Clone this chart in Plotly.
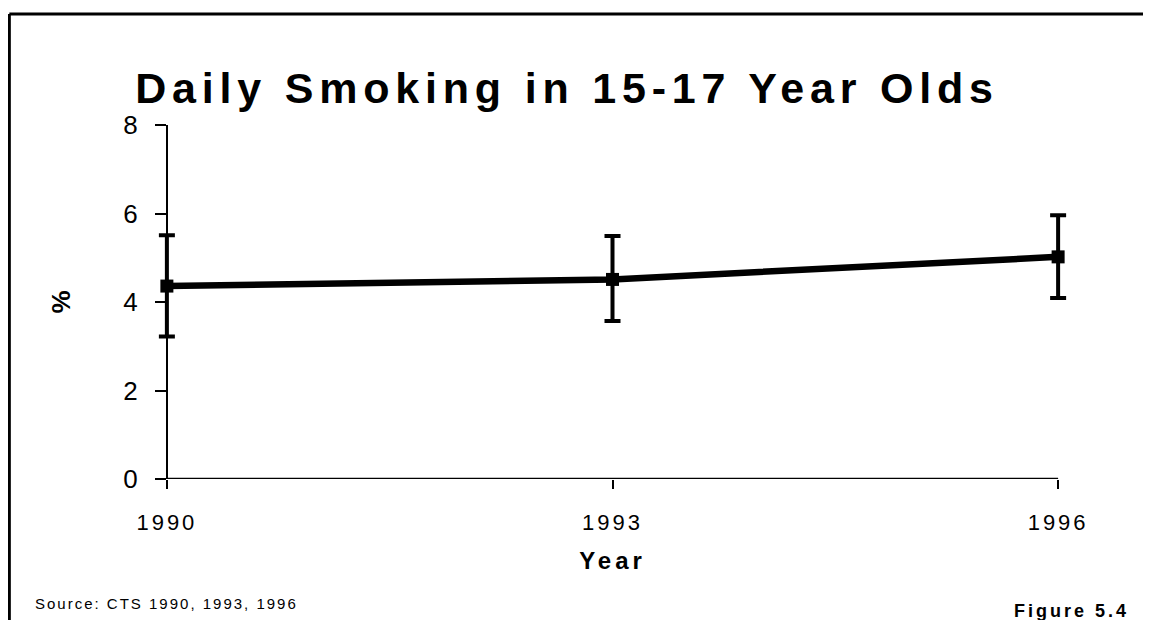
import plotly.graph_objects as go

years = [1990, 1993, 1996]
pct = [4.36, 4.51, 5.02]
ci_high = [5.51, 5.49, 5.96]
ci_low = [3.22, 3.57, 4.09]
x_tick_labels = ["1990", "1993", "1996"]
y_ticks = [0, 2, 4, 6, 8]

title_text = "Daily Smoking in 15-17 Year Olds"
source_text = "Source: CTS 1990, 1993, 1996"
figure_text = "Figure 5.4"

W, H = 1151, 620
OFF = 8  # page body margin
PAD = 0.08  # x padding (years) so error-bar caps are not clipped
# target page pixels of the axes
X0, X1, Y0, Y1 = 167, 1058, 479, 125
pxyr = (X1 - X0) / (years[-1] - years[0])
L = X0 - PAD * pxyr - OFF
R = X1 + PAD * pxyr - OFF
T = Y1 - OFF
B = Y0 - OFF


def sp(t, px):
    return f'<span style="letter-spacing:{px}px">{t}</span>'


err_plus = [h - v for h, v in zip(ci_high, pct)]
err_minus = [v - l for l, v in zip(ci_low, pct)]

fig = go.Figure()
fig.add_trace(go.Scatter(
    x=years, y=pct, mode="lines+markers",
    line=dict(color="black", width=6.5),
    marker=dict(symbol="square", size=13, color="black"),
    error_y=dict(type="data", symmetric=False, array=err_plus, arrayminus=err_minus,
                 color="black", thickness=4, width=8),
    cliponaxis=False, showlegend=False,
))

font = "Liberation Sans, Arial, sans-serif"
yaxis_pos = (PAD * pxyr) / (R - L)

fig.update_layout(
    width=W, height=H,
    margin=dict(l=L, r=W - R, t=T, b=H - B, pad=0),
    paper_bgcolor="white", plot_bgcolor="white",
    font=dict(family=font, color="black"),
    title=dict(text=sp(title_text, 5.8), font=dict(size=43, family=font, weight="bold", color="black"),
               x=(567 - OFF) / W, xanchor="center", y=1 - (88 - OFF) / H, yanchor="middle"),
    xaxis=dict(range=[years[0] - PAD, years[-1] + PAD], tickvals=years,
               ticktext=[sp(t, 3) for t in x_tick_labels],
               showgrid=False, zeroline=False, showline=False,
               ticks="outside", ticklen=9, tickwidth=2, tickcolor="black",
               tickfont=dict(size=22, family=font), ticklabelstandoff=15,
               title=dict(text=sp("Year", 4), font=dict(size=24, family=font, weight="bold"), standoff=17)),
    yaxis=dict(range=[0, 8], tickvals=y_ticks, anchor="free", position=yaxis_pos,
               showgrid=False, zeroline=False, showline=True, linecolor="black", linewidth=2,
               ticks="outside", ticklen=11, tickwidth=2, tickcolor="black",
               tickfont=dict(size=26, family=font), ticklabelstandoff=12,
               title=dict(text="%", font=dict(size=26, family=font, weight="bold"), standoff=44)),
)

# x axis line from first to last year
fig.add_shape(type="line", xref="x", yref="y", x0=years[0], x1=years[-1], y0=0, y1=0,
              line=dict(color="black", width=2.5), layer="above")

# outer border (left and top edges visible)
px_x = lambda p: (p - OFF - L) / (R - L)
px_y = lambda p: (B - (p - OFF)) / (B - T)
fig.add_shape(type="line", xref="paper", yref="paper", x0=px_x(9.5), x1=px_x(1170), y0=px_y(14), y1=px_y(14),
              line=dict(color="black", width=3))
fig.add_shape(type="line", xref="paper", yref="paper", x0=px_x(9.5), x1=px_x(9.5), y0=px_y(14), y1=px_y(640),
              line=dict(color="black", width=3))

fig.add_annotation(text=sp(source_text, 2), xref="paper", yref="paper", x=px_x(33), y=px_y(614),
                   xanchor="left", yanchor="bottom", showarrow=False,
                   font=dict(size=15, family=font, color="black"))
fig.add_annotation(text=sp(figure_text, 3), xref="paper", yref="paper", x=px_x(1131), y=px_y(623),
                   xanchor="right", yanchor="bottom", showarrow=False,
                   font=dict(size=18, family=font, color="black", weight="bold"))

fig.write_html("out.html")
